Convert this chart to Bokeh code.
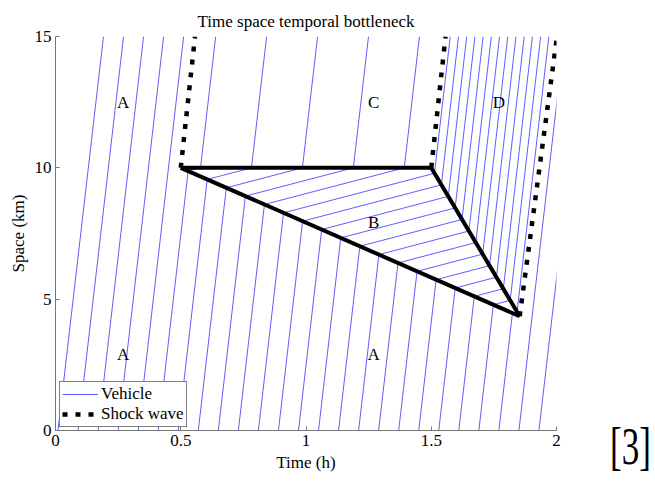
import numpy as np
from bokeh.plotting import figure
from bokeh.layouts import row
from bokeh.models import Legend, LegendItem, Range1d, FixedTicker, ColumnDataSource, Div
from bokeh.core.properties import value
from bokeh.embed import file_html
from bokeh.resources import INLINE

# ---------------- data ----------------
# entry times (h) of vehicles at x = 0 km
entry_times = [0.01, 0.09, 0.17, 0.25, 0.33, 0.41, 0.49, 0.57, 0.65, 0.73,
               0.81, 0.89, 0.97, 1.05, 1.13, 1.21, 1.29, 1.37, 1.45, 1.53,
               1.61, 1.69, 1.77, 1.85, 1.93]
v_free = 82.6        # km/h, vehicle speed in states A, C, D
v_queue = 2.5        # km/h, vehicle speed in queue state B
bottleneck_start = 0.5   # h
bottleneck_end = 1.5     # h
bottleneck_pos = 10.0    # km
queue_tip = (1.853, 4.35)  # (h, km)
road_end = 15.0

# shock waves
solid_t = [[0.5, 1.5], [0.5, 1.853], [1.5, 1.853]]
solid_y = [[10.0, 10.0], [10.0, 4.35], [10.0, 4.35]]
dashed_t = [[0.5, 0.557], [1.5, 1.557], [1.853, 2.0]]
dashed_y = [[10.0, 15.0], [10.0, 15.0], [4.35, 14.85]]

region_labels = ["A", "C", "D", "B", "A", "A"]
label_t = [0.27, 1.27, 1.77, 1.27, 0.27, 1.27]
label_y = [12.5, 12.5, 12.5, 7.9, 2.9, 2.9]

x_ticks = [0, 0.5, 1, 1.5, 2]
x_tick_labels = ["0", "0.5", "1", "1.5", "2"]
y_ticks = [0, 5, 10, 15]
y_tick_labels = ["0", "5", "10", "15"]

FONT = "Liberation Serif"


def trajectory(t0):
    ts, ys = [t0], [0.0]
    t_b, y_b = bottleneck_start, bottleneck_pos
    s_ab = (queue_tip[1] - y_b) / (queue_tip[0] - t_b)
    ti = (y_b - s_ab * t_b + v_free * t0) / (v_free - s_ab)
    if t_b <= ti <= queue_tip[0]:
        yi = v_free * (ti - t0)
        ts.append(ti); ys.append(yi)
        t10 = ti + (y_b - yi) / v_queue
        if t10 <= bottleneck_end:
            te, ye = t10, y_b
        else:
            s_bd = (queue_tip[1] - y_b) / (queue_tip[0] - bottleneck_end)
            te = (y_b - s_bd * bottleneck_end - yi + v_queue * ti) / (v_queue - s_bd)
            ye = yi + v_queue * (te - ti)
        ts.append(te); ys.append(ye)
        ts.append(te + (road_end - ye) / v_free); ys.append(road_end)
    else:
        ts.append(t0 + road_end / v_free); ys.append(road_end)
    return ts, ys


veh_t, veh_y = [], []
for t0 in entry_times:
    a, b = trajectory(t0)
    veh_t.append(a); veh_y.append(b)

p = figure(frame_width=501, frame_height=394,
           min_border_left=55, min_border_right=54,
           min_border_top=36, min_border_bottom=48,
           x_range=Range1d(0, 2), y_range=Range1d(0, 15),
           output_backend="svg", toolbar_location=None,
           title="Time space temporal bottleneck")
p.outline_line_color = None
p.xgrid.visible = False
p.ygrid.visible = False
p.background_fill_color = "white"
p.border_fill_color = "white"

p.title.text_font = FONT
p.title.text_font_size = "17px"
p.title.text_font_style = "normal"
p.title.text_color = "black"
p.title.align = "center"
p.title.standoff = 11

for ax in (p.xaxis[0], p.yaxis[0]):
    ax.major_tick_in = 4
    ax.major_tick_out = 0
    ax.minor_tick_in = 0
    ax.minor_tick_out = 0
    ax.axis_line_color = "#777777"
    ax.major_tick_line_color = "#777777"
    ax.major_label_text_font = FONT
    ax.major_label_text_font_size = "17px"
    ax.major_label_text_color = "black"
    ax.axis_label_text_font = FONT
    ax.axis_label_text_font_size = "17px"
    ax.axis_label_text_font_style = "normal"
    ax.axis_label_text_color = "black"
    ax.major_label_standoff = 4
    ax.axis_label_standoff = 4

p.xaxis.ticker = FixedTicker(ticks=x_ticks)
p.xaxis.major_label_overrides = {t: l for t, l in zip(x_ticks, x_tick_labels)}
p.yaxis.ticker = FixedTicker(ticks=y_ticks)
p.yaxis.major_label_overrides = {t: l for t, l in zip(y_ticks, y_tick_labels)}
p.xaxis.axis_label = "Time (h)"
p.yaxis.axis_label = "Space (km)"

veh_r = p.multi_line(veh_t, veh_y, line_color="#0000ff", line_width=0.8, line_alpha=0.8)
shock_r = p.multi_line(dashed_t, dashed_y, line_color="black", line_width=4.5,
                       line_dash="5 8")
p.multi_line(solid_t, solid_y, line_color="black", line_width=4, line_join="round")

src = ColumnDataSource(dict(x=label_t, y=label_y, text=region_labels))
p.text(x="x", y="y", text="text", source=src, text_font=value(FONT),
       text_font_size="17px", text_align="center", text_baseline="middle",
       text_color="black")

legend = Legend(items=[LegendItem(label="Vehicle", renderers=[veh_r]),
                       LegendItem(label="Shock wave", renderers=[shock_r])],
                location=(4, 3))
legend.label_text_font = FONT
legend.label_text_font_size = "17px"
legend.label_text_color = "black"
legend.glyph_width = 36
legend.glyph_height = 18
legend.label_height = 18
legend.label_standoff = 3
legend.padding = 2
legend.spacing = 0
legend.margin = 0
legend.border_line_color = "black"
legend.border_line_width = 1
legend.background_fill_alpha = 1
p.add_layout(legend)

ref_note = Div(text="[3]", width=42, height=56, margin=(420, 0, 0, 0),
               styles={"font-family": FONT, "font-size": "35px",
                       "line-height": "1", "color": "black",
                       "transform": "scaleY(1.5)", "transform-origin": "top left",
                       "white-space": "nowrap"})

layout = row(p, ref_note)
open("out.html", "w").write(file_html(layout, INLINE))
